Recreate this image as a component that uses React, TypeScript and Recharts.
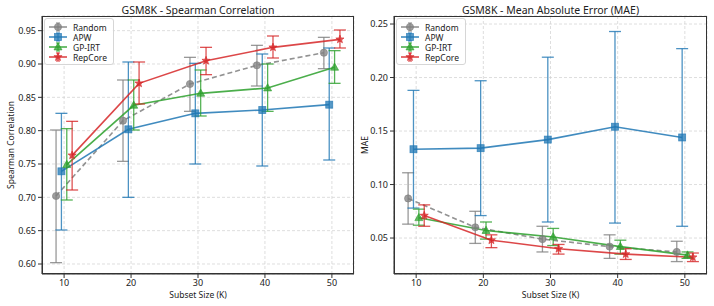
import React from 'react';
import { ComposedChart, Line, XAxis, YAxis, CartesianGrid, ErrorBar, Legend } from 'recharts';

// subset sizes (K) and axis ticks
const sizes = [10, 20, 30, 40, 50];
const xTicks = [10, 20, 30, 40, 50];
const spearmanTicks = [0.6, 0.65, 0.7, 0.75, 0.8, 0.85, 0.9, 0.95];
const maeTicks = [0.05, 0.1, 0.15, 0.2, 0.25];

// Spearman correlation: mean, lower and upper end of the error bar
const spRandom = [0.702, 0.815, 0.870, 0.898, 0.917];
const spRandomLo = [0.602, 0.754, 0.829, 0.867, 0.893];
const spRandomHi = [0.801, 0.876, 0.910, 0.928, 0.940];
const spApw = [0.739, 0.802, 0.826, 0.831, 0.839];
const spApwLo = [0.651, 0.700, 0.750, 0.747, 0.756];
const spApwHi = [0.826, 0.903, 0.901, 0.915, 0.924];
const spGp = [0.749, 0.838, 0.856, 0.864, 0.895];
const spGpLo = [0.696, 0.801, 0.822, 0.829, 0.871];
const spGpHi = [0.803, 0.876, 0.891, 0.900, 0.920];
const spRep = [0.763, 0.871, 0.905, 0.925, 0.937];
const spRepLo = [0.711, 0.840, 0.884, 0.909, 0.924];
const spRepHi = [0.814, 0.903, 0.925, 0.942, 0.951];

// MAE
const maeRandom = [0.087, 0.060, 0.049, 0.042, 0.037];
const maeRandomLo = [0.063, 0.045, 0.037, 0.031, 0.028];
const maeRandomHi = [0.111, 0.075, 0.061, 0.053, 0.047];
const maeApw = [0.133, 0.134, 0.142, 0.154, 0.144];
const maeApwLo = [0.078, 0.071, 0.065, 0.064, 0.061];
const maeApwHi = [0.188, 0.197, 0.219, 0.243, 0.227];
const maeGp = [0.069, 0.057, 0.051, 0.042, 0.034];
const maeGpLo = [0.062, 0.049, 0.043, 0.035, 0.031];
const maeGpHi = [0.077, 0.065, 0.059, 0.048, 0.037];
const maeRep = [0.071, 0.048, 0.040, 0.035, 0.032];
const maeRepLo = [0.061, 0.041, 0.035, 0.030, 0.028];
const maeRepHi = [0.081, 0.053, 0.044, 0.040, 0.036];

const FONT = '"Noto Sans", sans-serif';

const SERIES = [
  { name: 'Random', color: '#7f7f7f', marker: 'circle', dash: '5 3', dx: -1.2 },
  { name: 'APW', color: '#1f77b4', marker: 'square', dash: undefined, dx: -0.4 },
  { name: 'GP-IRT', color: '#2ca02c', marker: 'triangle', dash: undefined, dx: 0.4 },
  { name: 'RepCore', color: '#d62728', marker: 'star', dash: undefined, dx: 1.2 },
];

const rows = (vals: number[], lo: number[], hi: number[], dx: number) =>
  sizes.map((s, i) => ({ x: s + dx, y: vals[i], err: [vals[i] - lo[i], hi[i] - vals[i]] }));

function Marker({ kind, cx, cy, color }: { kind: string; cx: number; cy: number; color: string }) {
  const common = { fill: color, fillOpacity: 0.75, stroke: color, strokeOpacity: 0.75, strokeWidth: 0.8 };
  if (kind === 'circle') return <circle cx={cx} cy={cy} r={3.6} {...common} />;
  if (kind === 'square') return <rect x={cx - 3.5} y={cy - 3.5} width={7} height={7} {...common} />;
  if (kind === 'triangle')
    return <path d={`M${cx},${cy - 4.3}L${cx + 4},${cy + 2.9}L${cx - 4},${cy + 2.9}Z`} {...common} />;
  const pts: string[] = [];
  for (let k = 0; k < 10; k++) {
    const r = k % 2 === 0 ? 4.3 : 1.8;
    const a = -Math.PI / 2 + (k * Math.PI) / 5;
    pts.push(`${cx + r * Math.cos(a)},${cy + r * Math.sin(a)}`);
  }
  return <polygon points={pts.join(' ')} {...common} />;
}

function LegendBox() {
  return (
    <div style={{ background: 'rgba(255,255,255,0.85)', border: '1px solid #d6d6d6', borderRadius: 3, padding: '3px 6px 2px 3px', fontFamily: FONT, fontSize: 8.5, color: '#222' }}>
      {SERIES.map((s) => (
        <div key={s.name} style={{ display: 'flex', alignItems: 'center', height: 10 }}>
          <svg width={20} height={10} style={{ marginRight: 5 }}>
            <line x1={1} y1={5} x2={19} y2={5} stroke={s.color} strokeOpacity={0.85} strokeWidth={1.6} />
            <line x1={10} y1={1} x2={10} y2={9} stroke={s.color} strokeOpacity={0.8} strokeWidth={1.2} />
            <line x1={8} y1={1} x2={12} y2={1} stroke={s.color} strokeOpacity={0.8} strokeWidth={1.2} />
            <line x1={8} y1={9} x2={12} y2={9} stroke={s.color} strokeOpacity={0.8} strokeWidth={1.2} />
            <Marker kind={s.marker} cx={10} cy={5} color={s.color} />
          </svg>
          <span>{s.name}</span>
        </div>
      ))}
    </div>
  );
}

type PanelProps = {
  title: string;
  yLabel: string;
  yDomain: [number, number];
  yTicks: number[];
  yWidth: number;
  yLabelOffset: number;
  rightMargin: number;
  data: { x: number; y: number; err: number[] }[][];
};

function Panel({ title, yLabel, yDomain, yTicks, yWidth, yLabelOffset, rightMargin, data }: PanelProps) {
  const W = 357;
  const H = 306;
  const top = 16;
  const xAxisH = 30;
  const bottom = 2;
  const plotLeft = yWidth;
  const plotRight = W - rightMargin;
  const tickStyle = { fontSize: 9, fill: '#222', fontFamily: FONT };
  return (
    <div style={{ position: 'relative', width: W, height: H }}>
      <div style={{ position: 'absolute', top: 4, left: plotLeft, width: plotRight - plotLeft, textAlign: 'center', fontFamily: FONT, fontSize: 10.5, color: '#222', lineHeight: '12px' }}>
        {title}
      </div>
      <ComposedChart width={W} height={H} margin={{ top, right: rightMargin, bottom, left: 0 }} style={{ fontFamily: FONT }}>
        <CartesianGrid stroke="#d0d0d0" strokeDasharray="3 2" strokeWidth={0.7} />
        <XAxis
          type="number"
          dataKey="x"
          domain={[6.7, 53.3]}
          ticks={xTicks}
          allowDataOverflow
          height={xAxisH}
          tickSize={4}
          tickMargin={2}
          tick={tickStyle}
          stroke="#333"
          label={{ value: 'Subset Size (K)', position: 'insideBottom', offset: 6, style: { fontSize: 8.5, fill: '#222', fontFamily: FONT } }}
        />
        <YAxis
          type="number"
          domain={yDomain}
          ticks={yTicks}
          allowDataOverflow
          width={yWidth}
          tickSize={4}
          tickMargin={2}
          tick={tickStyle}
          stroke="#333"
          tickFormatter={(v: number) => v.toFixed(2)}
          label={{ value: yLabel, angle: -90, position: 'insideLeft', offset: yLabelOffset, style: { textAnchor: 'middle', fontSize: 8.5, fill: '#222', fontFamily: FONT } }}
        />
        <Legend
          layout="vertical"
          align="center"
          verticalAlign="middle"
          wrapperStyle={{ top: 18, left: plotLeft + 2, width: 'auto' }}
          content={() => <LegendBox />}
        />
        {SERIES.map((s, i) => (
          <Line
            key={s.name}
            data={data[i]}
            dataKey="y"
            name={s.name}
            type="linear"
            stroke={s.color}
            strokeOpacity={0.85}
            strokeWidth={1.6}
            strokeDasharray={s.dash}
            isAnimationActive={false}
            dot={(p: any) => <Marker key={`${s.name}-${p.index}`} kind={s.marker} cx={p.cx} cy={p.cy} color={s.color} />}
            activeDot={false}
          >
            <ErrorBar dataKey="err" direction="y" width={6} stroke={s.color} strokeOpacity={0.8} strokeWidth={1.3} isAnimationActive={false} />
          </Line>
        ))}
      </ComposedChart>
      {/* plot frame (matplotlib spines) */}
      <div
        style={{
          position: 'absolute',
          left: plotLeft,
          top,
          width: plotRight - plotLeft,
          height: H - top - xAxisH - bottom,
          boxSizing: 'border-box',
          border: '1px solid #333',
          pointerEvents: 'none',
        }}
      />
    </div>
  );
}

const spearmanData = [
  rows(spRandom, spRandomLo, spRandomHi, SERIES[0].dx),
  rows(spApw, spApwLo, spApwHi, SERIES[1].dx),
  rows(spGp, spGpLo, spGpHi, SERIES[2].dx),
  rows(spRep, spRepLo, spRepHi, SERIES[3].dx),
];

const maeData = [
  rows(maeRandom, maeRandomLo, maeRandomHi, SERIES[0].dx),
  rows(maeApw, maeApwLo, maeApwHi, SERIES[1].dx),
  rows(maeGp, maeGpLo, maeGpHi, SERIES[2].dx),
  rows(maeRep, maeRepLo, maeRepHi, SERIES[3].dx),
];

export default function App() {
  return (
    <div style={{ position: 'absolute', left: 0, top: 0, width: 714, height: 306, background: '#fff', display: 'flex' }}>
      <Panel
        title="GSM8K - Spearman Correlation"
        yLabel="Spearman Correlation"
        yDomain={[0.585, 0.972]}
        yTicks={spearmanTicks}
        yWidth={42}
        yLabelOffset={11}
        rightMargin={3}
        data={spearmanData}
      />
      <Panel
        title="GSM8K - Mean Absolute Error (MAE)"
        yLabel="MAE"
        yDomain={[0.0164, 0.2575]}
        yTicks={maeTicks}
        yWidth={37}
        yLabelOffset={8}
        rightMargin={7}
        data={maeData}
      />
    </div>
  );
}
